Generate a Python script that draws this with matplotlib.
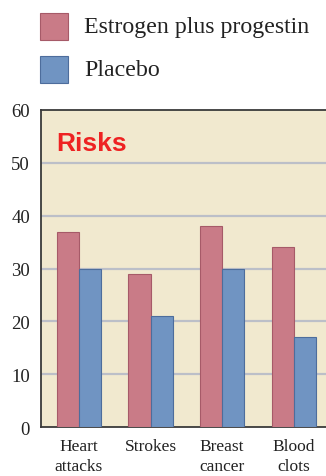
import numpy as np
import matplotlib.pyplot as plt
from matplotlib.patches import Rectangle

# values
categories = ['Heart\nattacks', 'Strokes', 'Breast\ncancer', 'Blood\nclots']
estrogen = [37, 29, 38, 34]
placebo = [30, 21, 30, 17]
yticks = [0, 10, 20, 30, 40, 50, 60]

red = '#c97b87'
blue = '#7094c2'
plt.rcParams['font.family'] = ['Liberation Serif', 'DejaVu Serif']

fig = plt.figure(figsize=(3.26, 4.77), dpi=100)
ax = fig.add_axes([0.1258, 0.1027, 0.8742, 0.6646])
ax.set_facecolor('#f1e9cf')

x = np.arange(len(categories))
w = 0.31
ax.bar(x - w / 2, estrogen, w, color=red, edgecolor='#a65a68', linewidth=0.8, zorder=3)
ax.bar(x + w / 2, placebo, w, color=blue, edgecolor='#4d6d9c', linewidth=0.8, zorder=3)

ax.set_ylim(0, 60)
ax.set_xlim(-0.53, 3.45)
ax.set_yticks(yticks)
ax.set_yticklabels([str(t) for t in yticks], fontsize=13.5, color='#222222')
ax.set_xticks(x)
ax.set_xticklabels(categories, fontsize=12.5, color='#222222', linespacing=1.3)
ax.tick_params(length=0, pad=8)
ax.tick_params(axis='x', pad=8)
for t in yticks[1:-1]:
    ax.axhline(t, color='#bcbfc8', linewidth=1.6, zorder=1)

for s in ['left', 'bottom', 'top']:
    ax.spines[s].set_color('#3a3a3a')
    ax.spines[s].set_linewidth(1.3)
ax.spines['right'].set_visible(False)

ax.text(0.055, 0.935, 'Risks', transform=ax.transAxes, fontsize=19,
        fontweight='bold', family='Liberation Sans', color='#ee2222',
        va='top', ha='left')

# legend drawn by hand
W, H = 326, 477
for i, (lab, c, ec) in enumerate([('Estrogen plus progestin', red, '#a65a68'),
                                   ('Placebo', blue, '#4d6d9c')]):
    top = 14 + i * 43
    fig.add_artist(Rectangle((40 / W, 1 - (top + 27) / H), 28 / W, 27 / H,
                             transform=fig.transFigure, facecolor=c,
                             edgecolor=ec, linewidth=0.8))
    fig.text(84 / W, 1 - (top + 14) / H, lab, fontsize=17.2, color='#222222',
             va='center', ha='left')

fig.savefig('out.png', dpi=100)
